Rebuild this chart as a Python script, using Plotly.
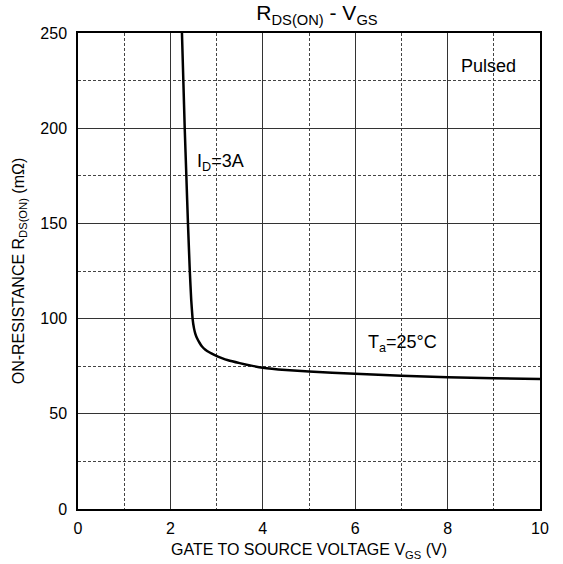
import plotly.graph_objects as go

vgs = [2.25, 2.28, 2.31, 2.345, 2.38, 2.42, 2.45, 2.48, 2.51, 2.54, 2.58, 2.63, 2.68, 2.75, 2.85, 2.95, 3.1, 3.25, 3.5, 3.75, 4.0, 4.5, 5.0, 6.0, 7.0, 8.0, 9.0, 10.0]
rds = [250, 225, 200, 175, 150, 125, 110, 100, 95, 92, 89.5, 87.3, 85.5, 83.8, 82.2, 81.0, 79.4, 78.1, 76.6, 75.3, 74.2, 73.0, 72.2, 71.0, 70.0, 69.2, 68.7, 68.3]

x_ticks = [0, 2, 4, 6, 8, 10]
y_ticks = [0, 50, 100, 150, 200, 250]

FONT = "Liberation Sans, Arial, sans-serif"

fig = go.Figure()
fig.add_trace(go.Scatter(x=vgs, y=rds, mode="lines", line=dict(color="black", width=2.5, shape="spline", smoothing=0.3),
                         showlegend=False, hoverinfo="skip"))

axis_common = dict(showline=True, linecolor="black", linewidth=1.5, mirror=True, automargin=False,
                   showgrid=True, gridcolor="#333", gridwidth=1, zeroline=False,
                   ticks="", tickfont=dict(family=FONT, size=16, color="black"))

fig.update_xaxes(range=[0, 10], tickvals=x_ticks, ticktext=[str(v) for v in x_ticks], ticklabelstandoff=4,
                 minor=dict(dtick=1, tick0=0, showgrid=True, griddash="3px,2px", gridcolor="#444", gridwidth=1),
                 title=dict(text="GATE TO SOURCE VOLTAGE V<sub>GS</sub> (V)", font=dict(family=FONT, size=16, color="black"), standoff=8),
                 **axis_common)
fig.update_yaxes(range=[0, 250], tickvals=y_ticks, ticktext=[str(v) for v in y_ticks], ticklabelstandoff=6,
                 minor=dict(dtick=25, tick0=0, showgrid=True, griddash="3px,2px", gridcolor="#444", gridwidth=1),
                 title=dict(text="ON-RESISTANCE R<sub>DS(ON)</sub> (mΩ)", font=dict(family=FONT, size=16, color="black"), standoff=12),
                 **axis_common)

fig.add_annotation(x=8.88, y=232.5, text="Pulsed", showarrow=False, font=dict(family=FONT, size=18, color="black"))
fig.add_annotation(x=3.08, y=182, text="I<sub>D</sub>=3A", showarrow=False, font=dict(family=FONT, size=18, color="black"))
fig.add_annotation(x=7.02, y=87, text="T<sub>a</sub>=25°C", showarrow=False, font=dict(family=FONT, size=18, color="black"))

fig.update_layout(
    width=563, height=564,
    margin=dict(l=78, r=23, t=33, b=55),
    paper_bgcolor="white", plot_bgcolor="white",
    title=dict(text="R<sub>DS(ON)</sub> - V<sub>GS</sub>", x=0.563, xanchor="center", y=0.99, yanchor="top",
               font=dict(family=FONT, size=21, color="black")),
)

fig.write_html("out.html")
